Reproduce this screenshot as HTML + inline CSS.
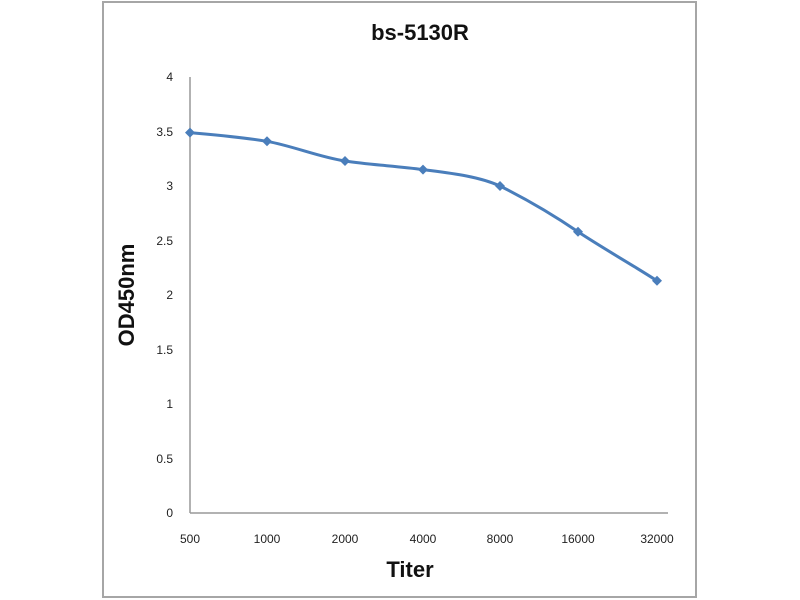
<!DOCTYPE html>
<html><head><meta charset="utf-8"><style>body{margin:0;background:#fff}svg{display:block}</style></head>
<body>
<svg width="800" height="600" xmlns="http://www.w3.org/2000/svg" font-family="Liberation Sans, sans-serif">
<rect x="0" y="0" width="800" height="600" fill="#fff"/>
<rect x="103" y="2" width="593" height="595" fill="none" stroke="#a6a6a6" stroke-width="2"/>
<text x="420" y="40" text-anchor="middle" font-size="22" font-weight="bold" fill="#111">bs-5130R</text>
<line x1="190" y1="77" x2="190" y2="513" stroke="#999" stroke-width="1.5"/>
<line x1="190" y1="513" x2="668" y2="513" stroke="#999" stroke-width="1.5"/>
<g font-size="12" fill="#222" text-anchor="end">
<text x="173" y="81">4</text><text x="173" y="136">3.5</text><text x="173" y="190">3</text>
<text x="173" y="245">2.5</text><text x="173" y="299">2</text><text x="173" y="354">1.5</text>
<text x="173" y="408">1</text><text x="173" y="463">0.5</text><text x="173" y="517">0</text>
</g>
<g font-size="12" fill="#222" text-anchor="middle">
<text x="190" y="543">500</text><text x="267" y="543">1000</text><text x="345" y="543">2000</text>
<text x="423" y="543">4000</text><text x="500" y="543">8000</text><text x="578" y="543">16000</text><text x="657" y="543">32000</text>
</g>
<text x="410" y="577" text-anchor="middle" font-size="22" font-weight="bold" fill="#111">Titer</text>
<text transform="translate(134,295) rotate(-90)" text-anchor="middle" font-size="22" font-weight="bold" fill="#111">OD450nm</text>
<path d="M190,132.6 C216,135 241,137 267,141.3 C293,146 319,157 345,161 C371,165 397,166 423,169.6 C449,173 478,176 500,186 C526,199 552,214 578,231.8 C604,249 631,264 657,280.8" fill="none" stroke="#4a7ebb" stroke-width="3" stroke-linejoin="round"/>
<g fill="#4a7ebb">
<polygon points="190,127.6 195,132.6 190,137.6 185,132.6"/>
<polygon points="267,136.3 272,141.3 267,146.3 262,141.3"/>
<polygon points="345,156 350,161 345,166 340,161"/>
<polygon points="423,164.6 428,169.6 423,174.6 418,169.6"/>
<polygon points="500,181 505,186 500,191 495,186"/>
<polygon points="578,226.8 583,231.8 578,236.8 573,231.8"/>
<polygon points="657,275.8 662,280.8 657,285.8 652,280.8"/>
</g>
</svg>
</body></html>
